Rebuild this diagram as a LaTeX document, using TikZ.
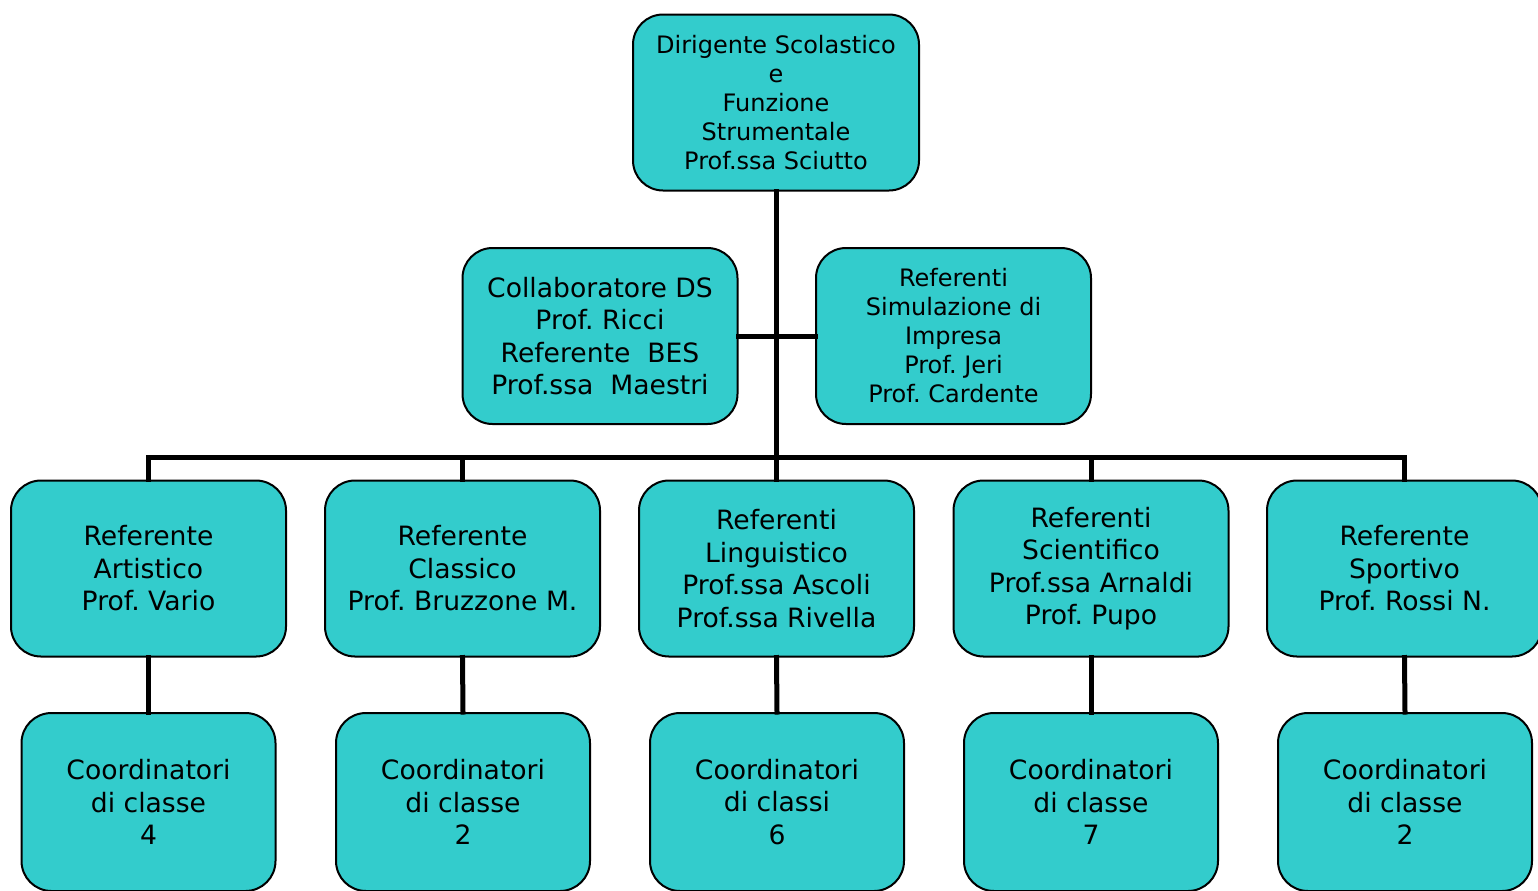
\documentclass[tikz,border=0pt]{standalone}
\usepackage{fontspec}
\setmainfont{DejaVu Sans}
\frenchspacing
\definecolor{turchese}{RGB}{51,204,204}
\newcommand\testopiccolo{\fontsize{12}{14.5}\selectfont\lineskiplimit=-20pt\relax}
\newcommand\testogrande{\fontsize{13.3}{16.25}\selectfont\lineskiplimit=-20pt\relax}
\tikzset{
  box/.style={draw=black, line width=1pt, fill=turchese, rounded corners=15pt,
    align=center, inner sep=0pt, minimum width=137.5pt, minimum height=88pt},
  boxsmall/.style={box, font=\testopiccolo},
  boxbig/.style={box, font=\testogrande},
  coord/.style={boxbig, minimum width=127pt, minimum height=89pt},
  conn/.style={line width=2.5pt},
}
\begin{document}
\begin{tikzpicture}[x=0.5pt, y=-0.5pt, line cap=rect, line join=miter]
  \useasboundingbox (0,0) rectangle (1538,890);
  % --- vertice ---
  \node[boxsmall, minimum width=143pt] (ds) at (776,102.5)
    {Dirigente Scolastico\\e\\Funzione\\ Strumentale\\Prof.ssa Sciutto};
  % --- staff ---
  \node[boxbig] (collab) at (600,336)
    {Collaboratore DS\\Prof. Ricci\\Referente~ BES\\Prof.ssa~ Maestri};
  \node[boxsmall] (simul) at (953.5,336)
    {Referenti\\Simulazione di\\Impresa\\Prof. Jeri\\ Prof. Cardente};
  % --- referenti di indirizzo ---
  \node[boxbig] (art) at (148.5,568.5) {Referente\\ Artistico\\Prof. Vario};
  \node[boxbig] (class) at (462.5,568.5) {Referente\\ Classico\\Prof. Bruzzone M.};
  \node[boxbig] (ling) at (776.5,568.5)
    {Referenti\\Linguistico\\Prof.ssa Ascoli\\Prof.ssa Rivella};
  \node[boxbig] (scien) at (1091,568.5)
    {Referenti\\Scientifico\\Prof.ssa Arnaldi\\Prof. Pupo};
  \node[boxbig] (sport) at (1404.5,568.5) {Referente\\ Sportivo\\Prof. Rossi N.};
  % --- coordinatori ---
  \node[coord] (cart) at (148.5,802) {Coordinatori\\di classe\\4};
  \node[coord] (cclass) at (463,802) {Coordinatori\\di classe\\2};
  \node[coord] (cling) at (777,802) {Coordinatori\\di classi\\6};
  \node[coord] (cscien) at (1091,802) {Coordinatori\\di classe\\7};
  \node[coord] (csport) at (1405,802) {Coordinatori\\di classe\\2};
  % --- collegamenti ---
  \coordinate (busL) at (148.5,457);
  \coordinate (busR) at (1404.5,457);
  \draw[conn] (ds.south) -- (ds.south |- busL);
  \draw[conn] (collab.east) -- (simul.west);
  \draw[conn] (busL) -- (busR);
  \foreach \r in {art,class,ling,scien,sport}
    \draw[conn] (\r.north) -- (\r.north |- busL);
  \foreach \r/\c in {art/cart,class/cclass,ling/cling,scien/cscien,sport/csport}
    \draw[conn] (\r.south) -- (\c.north);
\end{tikzpicture}
\end{document}
